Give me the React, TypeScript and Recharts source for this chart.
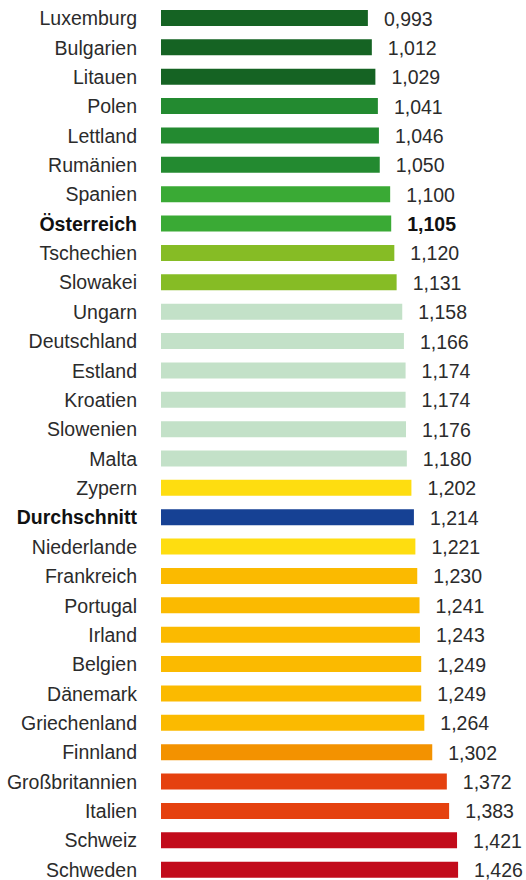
import React from 'react';
import { BarChart, Bar, XAxis, YAxis, Cell, LabelList } from 'recharts';

const countries = [
  'Luxemburg', 'Bulgarien', 'Litauen', 'Polen', 'Lettland', 'Rumänien', 'Spanien',
  'Österreich', 'Tschechien', 'Slowakei', 'Ungarn', 'Deutschland', 'Estland', 'Kroatien',
  'Slowenien', 'Malta', 'Zypern', 'Durchschnitt', 'Niederlande', 'Frankreich', 'Portugal',
  'Irland', 'Belgien', 'Dänemark', 'Griechenland', 'Finnland', 'Großbritannien', 'Italien',
  'Schweiz', 'Schweden',
];

const values = [
  0.993, 1.012, 1.029, 1.041, 1.046, 1.05, 1.1,
  1.105, 1.12, 1.131, 1.158, 1.166, 1.174, 1.174,
  1.176, 1.18, 1.202, 1.214, 1.221, 1.23, 1.241,
  1.243, 1.249, 1.249, 1.264, 1.302, 1.372, 1.383,
  1.421, 1.426,
];

// colour group per row
const colorGroups = [
  0, 0, 0, 1, 1, 1, 2,
  2, 3, 3, 4, 4, 4, 4,
  4, 4, 5, 6, 5, 7, 7,
  7, 7, 7, 7, 8, 9, 9,
  10, 10,
];

const palette = [
  '#156323', '#238a30', '#3aaa35', '#86bc25', '#c3e1c8', '#fedd10',
  '#164194', '#fbba00', '#f39200', '#e5410f', '#c20b1b',
];

const boldRows = ['Österreich', 'Durchschnitt'];
const boldValues = ['Österreich'];

const data = countries.map((name, i) => ({ name, value: values[i], group: colorGroups[i] }));

const FONT = '"Liberation Sans", Arial, sans-serif';

const fmt = (v: number) => v.toFixed(3).replace('.', ',');

const CountryTick = (props: any) => {
  const { x, y, payload } = props;
  const bold = boldRows.includes(payload.value);
  return (
    <text
      x={x}
      y={y}
      dy={7.5}
      textAnchor="end"
      fontFamily={FONT}
      fontSize={19.5}
      fontWeight={bold ? 'bold' : 'normal'}
      fill={bold ? '#111' : '#2b2b2b'}
    >
      {payload.value}
    </text>
  );
};

const ValueLabel = (props: any) => {
  const { x, y, width, height, value, index } = props;
  const bold = boldValues.includes(countries[index]);
  return (
    <text
      x={x + width + 16}
      y={y + height / 2}
      dy={7.5}
      textAnchor="start"
      fontFamily={FONT}
      fontSize={19.5}
      fontWeight={bold ? 'bold' : 'normal'}
      fill={bold ? '#111' : '#2b2b2b'}
    >
      {fmt(value)}
    </text>
  );
};

export default function App() {
  return (
    <div style={{ position: 'absolute', top: 0, left: 0, background: '#fff' }}>
      <BarChart
        layout="vertical"
        width={526}
        height={884}
        data={data}
        margin={{ top: 3, right: 0, left: 0, bottom: 0 }}
      >
        <XAxis type="number" domain={[0, 1.752]} allowDataOverflow hide />
        <YAxis
          type="category"
          dataKey="name"
          width={161}
          axisLine={false}
          tickLine={false}
          tickMargin={18}
          interval={0}
          tick={<CountryTick />}
        />
        <Bar dataKey="value" barSize={16} isAnimationActive={false}>
          {data.map((d, i) => (
            <Cell key={i} fill={palette[d.group]} />
          ))}
          <LabelList dataKey="value" content={<ValueLabel />} />
        </Bar>
      </BarChart>
    </div>
  );
}
